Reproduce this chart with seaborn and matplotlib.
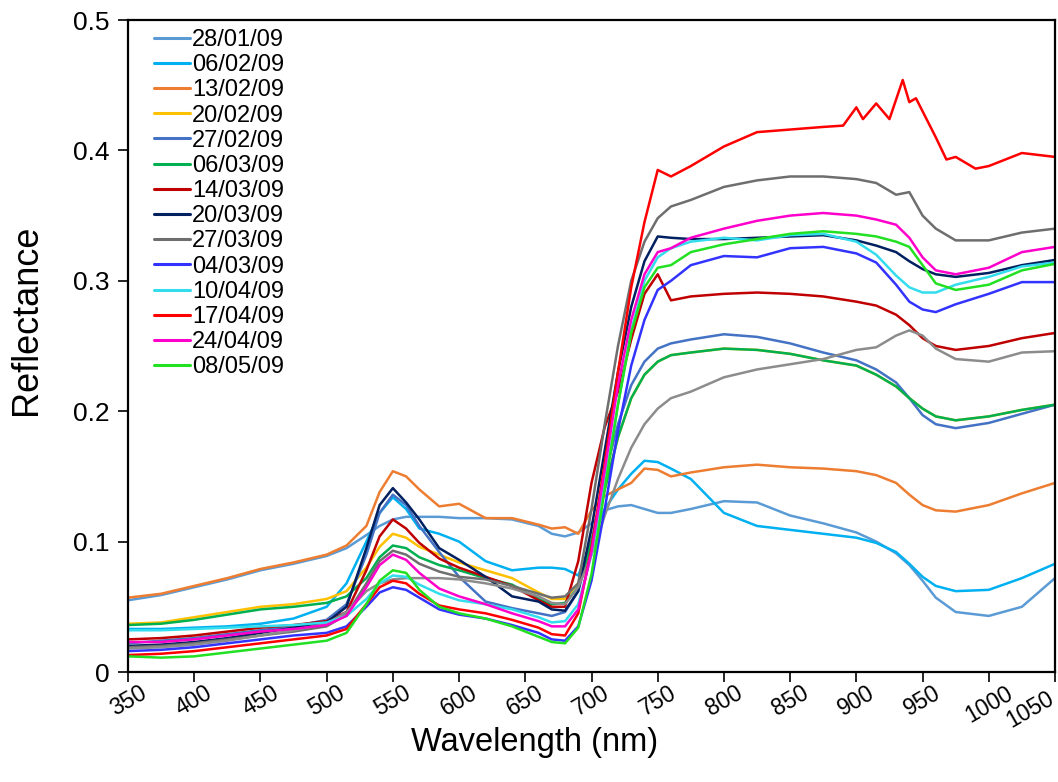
import matplotlib
matplotlib.use("Agg")
import matplotlib.pyplot as plt
import matplotlib.transforms as mtransforms
from matplotlib.lines import Line2D
import pandas as pd
import seaborn as sns

# Common wavelength grid (nm)
wavelength = [350, 375, 400, 425, 450, 475, 500, 515, 530, 540, 550, 560, 570, 585,
              600, 620, 640, 660, 670, 680, 690, 700, 710, 720, 730, 740, 750, 760,
              775, 800, 825, 850, 875, 900, 915, 930, 940, 950, 960, 975, 1000, 1025, 1050]

# 17/04 spectrum is sampled more finely across the 900-950 nm water band
wavelength_1704 = wavelength[:33] + [890, 900, 905, 915, 925, 935, 940, 945, 960, 968,
                                     975, 990, 1000, 1025, 1050]

r_280109 = [.055, .059, .065, .071, .078, .083, .089, .095, .105, .112, .117, .119, .119, .119,
            .118, .118, .117, .112, .106, .104, .107, .114, .124, .127, .128, .125, .122, .122,
            .125, .131, .130, .120, .114, .107, .100, .091, .082, .070, .057, .046, .043, .050, .072]
r_060209 = [.033, .033, .034, .035, .037, .041, .050, .068, .100, .122, .134, .125, .110, .106,
            .100, .085, .078, .080, .080, .079, .074, .100, .125, .140, .152, .162, .161, .156,
            .148, .122, .112, .109, .106, .103, .099, .092, .083, .073, .066, .062, .063, .072, .083]
r_130209 = [.057, .060, .066, .072, .079, .084, .090, .097, .112, .138, .154, .150, .140, .127,
            .129, .118, .118, .113, .110, .111, .106, .124, .135, .140, .145, .156, .155, .150,
            .153, .157, .159, .157, .156, .154, .151, .145, .136, .128, .124, .123, .128, .137, .145]
r_200209 = [.037, .038, .042, .046, .050, .052, .056, .062, .080, .096, .106, .103, .096, .090,
            .084, .078, .072, .061, .056, .056, .068, .100, .140, .180, .210, .228, .238, .243,
            .245, .248, .247, .244, .239, .235, .228, .219, .210, .202, .196, .193, .196, .201, .205]
r_270209 = [.022, .024, .026, .029, .032, .035, .040, .052, .090, .122, .136, .128, .112, .092,
            .073, .054, .049, .045, .043, .046, .062, .100, .150, .190, .220, .238, .248, .252,
            .255, .259, .257, .252, .245, .239, .232, .222, .210, .197, .190, .187, .191, .198, .205]
r_060309 = [.036, .037, .040, .044, .048, .050, .053, .058, .072, .088, .097, .095, .088, .082,
            .078, .072, .067, .056, .052, .053, .065, .100, .140, .180, .210, .228, .238, .243,
            .245, .248, .247, .244, .239, .235, .228, .219, .210, .202, .196, .193, .196, .201, .205]
r_140309 = [.025, .026, .028, .031, .034, .036, .039, .046, .078, .104, .117, .110, .099, .087,
            .080, .073, .066, .055, .050, .050, .085, .145, .188, .215, .255, .290, .305, .285,
            .288, .290, .291, .290, .288, .284, .281, .274, .266, .256, .250, .247, .250, .256, .260]
r_200309 = [.020, .021, .023, .026, .030, .034, .038, .050, .095, .128, .141, .130, .117, .095,
            .086, .073, .058, .054, .048, .047, .062, .110, .170, .230, .280, .315, .334, .333,
            .332, .332, .333, .334, .335, .331, .327, .322, .315, .309, .305, .303, .306, .312, .316]
r_270309 = [.019, .020, .022, .025, .028, .031, .035, .044, .068, .085, .093, .090, .083, .077,
            .073, .071, .066, .060, .057, .058, .068, .125, .190, .250, .300, .330, .348, .357,
            .362, .372, .377, .380, .380, .378, .375, .366, .368, .350, .340, .331, .331, .337, .340]
r_040309 = [.016, .017, .019, .022, .025, .028, .030, .035, .050, .061, .065, .063, .057, .048,
            .044, .041, .036, .030, .025, .024, .035, .070, .125, .185, .235, .270, .293, .300,
            .312, .319, .318, .325, .326, .321, .314, .297, .284, .278, .276, .282, .290, .299, .299]
r_100409 = [.032, .032, .033, .034, .035, .036, .038, .043, .056, .068, .074, .073, .067, .060,
            .055, .052, .048, .042, .038, .039, .052, .090, .145, .205, .262, .300, .318, .325,
            .330, .333, .331, .335, .336, .330, .320, .304, .295, .291, .291, .297, .303, .311, .314]
r_170409 = [.013, .014, .016, .019, .022, .025, .028, .033, .052, .065, .070, .068, .060, .051,
            .048, .045, .040, .034, .029, .028, .045, .095, .160, .230, .295, .345, .385, .380,
            .388, .403, .414, .416, .418,
            .419, .433, .424, .436, .424, .454, .437, .440, .410, .393, .395, .386, .388, .398, .395]
r_240409 = [.023, .023, .025, .028, .031, .033, .036, .043, .065, .082, .090, .086, .076, .064,
            .058, .052, .045, .039, .035, .035, .048, .092, .155, .220, .270, .305, .322, .325,
            .333, .340, .346, .350, .352, .350, .347, .343, .333, .318, .308, .305, .310, .322, .326]
r_080509 = [.012, .011, .012, .015, .018, .021, .024, .030, .052, .070, .078, .076, .063, .050,
            .045, .041, .035, .027, .023, .022, .034, .075, .140, .205, .260, .295, .310, .312,
            .322, .328, .332, .336, .338, .336, .334, .330, .326, .312, .298, .293, .297, .308, .313]
# Additional acquisition plotted without a legend entry
r_extra = [.018, .019, .021, .024, .028, .032, .037, .046, .062, .068, .071, .072, .072, .072,
           .071, .068, .064, .058, .053, .052, .065, .090, .120, .148, .172, .190, .202, .210,
           .215, .226, .232, .236, .240, .247, .249, .258, .262, .258, .248, .240, .238, .245, .246]

dates = ["28/01/09", "06/02/09", "13/02/09", "20/02/09", "27/02/09", "06/03/09", "14/03/09",
         "20/03/09", "27/03/09", "04/03/09", "10/04/09", "17/04/09", "24/04/09", "08/05/09"]
colors = ["#5B9BD5", "#00B0F0", "#ED7D31", "#FFC000", "#4472C4", "#00B050", "#C00000",
          "#002060", "#6E6E6E", "#3333FF", "#33DDEE", "#FF0000", "#FF00CC", "#22E022"]
extra_name = "extra"
extra_color = "#8C8C8C"

y_ticks = [0, 0.1, 0.2, 0.3, 0.4, 0.5]
y_tick_labels = ["0", "0.1", "0.2", "0.3", "0.4", "0.5"]
x_ticks = list(range(350, 1051, 50))

series = [r_280109, r_060209, r_130209, r_200209, r_270209, r_060309, r_140309,
          r_200309, r_270309, r_040309, r_100409, r_170409, r_240409, r_080509]

frames = []
for name, vals in zip(dates, series):
    wl = wavelength_1704 if name == "17/04/09" else wavelength
    frames.append(pd.DataFrame({"wl": wl, "refl": vals, "date": name}))
frames.insert(9, pd.DataFrame({"wl": wavelength, "refl": r_extra, "date": extra_name}))
df = pd.concat(frames, ignore_index=True)

order = dates[:9] + [extra_name] + dates[9:]
palette = dict(zip(dates, colors))
palette[extra_name] = extra_color

sns.set_theme(style="ticks")
plt.rcParams["font.family"] = ["Liberation Sans", "DejaVu Sans"]
plt.rcParams.update({"text.color": "black", "axes.labelcolor": "black",
                     "xtick.color": "black", "ytick.color": "black"})

fig = plt.figure(figsize=(10.58, 7.82), dpi=100)
ax = fig.add_axes([128 / 1058, 1 - 672 / 782, 927 / 1058, 652 / 782])

sns.lineplot(data=df, x="wl", y="refl", hue="date", hue_order=order, palette=palette,
             estimator=None, sort=True, linewidth=1.8, legend=False, ax=ax)

ax.set_xlim(350, 1050)
ax.set_ylim(0, 0.5)
ax.set_xticks(x_ticks)
ax.set_xticklabels([str(t) for t in x_ticks], rotation=30, ha="center", fontsize=16.5)
ax.set_yticks(y_ticks)
ax.set_yticklabels(y_tick_labels, fontsize=19)
ax.tick_params(axis="both", direction="out", length=7, width=1.2, color="black")
ax.tick_params(axis="x", pad=0)
ax.tick_params(axis="y", pad=6)

# keep the last wavelength label inside the figure and clear of its neighbour
last = ax.get_xticklabels()[-1]
last.set_ha("right")
last.set_transform(last.get_transform() +
                   mtransforms.ScaledTranslation(0.03, -0.05, fig.dpi_scale_trans))

ax.set_xlabel("Wavelength (nm)", fontsize=23.5)
ax.set_ylabel("Reflectance", fontsize=26)
ax.xaxis.set_label_coords((535 - 128) / 927, (672 - 727) / 652)
ax.yaxis.set_label_coords((44 - 128) / 927, (672 - 320) / 652)
for sp in ax.spines.values():
    sp.set_visible(True)
    sp.set_color("black")
    sp.set_linewidth(1.6)

handles = [Line2D([], [], color=c, lw=2.2) for c in colors]
leg = ax.legend(handles, dates, loc="upper left", bbox_to_anchor=(0.013, 1.008), frameon=False,
                fontsize=17, handlelength=1.5, handletextpad=0.1, labelspacing=0.135,
                borderaxespad=0.2)

fig.savefig("out.png", dpi=100)
